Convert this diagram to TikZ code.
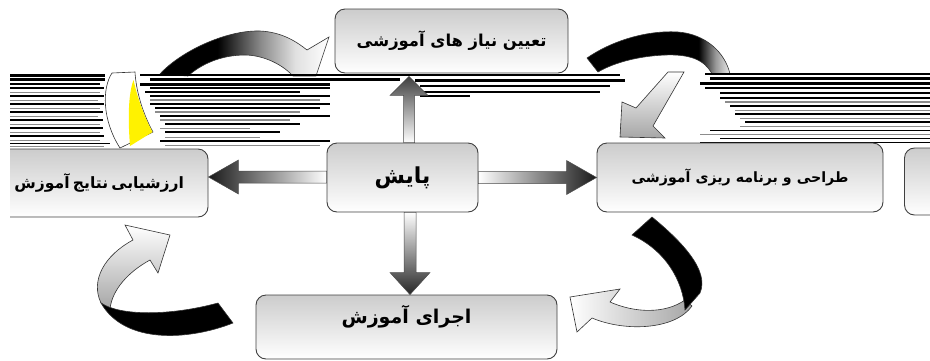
\documentclass[tikz,border=0pt]{standalone}
\usepackage{fontspec}
\newfontfamily\fa[Script=Arabic]{DejaVu Sans}
\TeXXeTstate=1
\usetikzlibrary{calc}
\pgfdeclarehorizontalshading{tlarc}{100bp}{color(0bp)=(black); color(25bp)=(black); color(42bp)=(black); color(55bp)=(black!45); color(65bp)=(black!12); color(75bp)=(white); color(100bp)=(white)}
\pgfdeclarehorizontalshading{trarc}{100bp}{color(0bp)=(black); color(25bp)=(black); color(64bp)=(black); color(70bp)=(black!40); color(75bp)=(black!8); color(100bp)=(black!8)}
\tikzset{
  box/.style={rounded corners=10pt, draw=black!75, line width=0.9pt, top color=black!20, bottom color=white, inner sep=0pt},
  barrow/.style={draw=black!70, line width=0.5pt},
  ribbon/.style={draw=black!80, line width=0.6pt},
  stripe/.style={line cap=butt}
}
\begin{document}
\begin{tikzpicture}[x=1pt,y=-1pt]
\useasboundingbox (0,0) rectangle (930,360);
\clip (10,0) rectangle (930,360);

% ---- top-left curved arrow (upper arc) ----
\shade[ribbon, shading=tlarc] (160,74) .. controls (180,52) and (225,30) .. (260,31) .. controls (282,32) and (297,42) .. (307,50) -- (329,37) -- (316,76) -- (293,76) .. controls (280,62) and (260,55) .. (245,55) .. controls (220,55) and (200,65) .. (188,76) -- cycle;
% ---- top-right curved arrow (upper arc) ----
\shade[ribbon, shading=trarc] (587,58) .. controls (610,42) and (645,30) .. (678,32) .. controls (705,34) and (725,52) .. (730,74) -- (712,74) .. controls (705,60) and (690,54) .. (665,55) .. controls (640,56) and (615,62) .. (598,72) -- cycle;

% ---- stripes ----
\foreach \yy/\xa/\xb/\ww/\cc in {
 75/10/105/3/black, 79.5/10/105/2.5/black, 84/10/100/1.5/black, 88/10/104/2/black,
 92/10/100/1/black!45, 96/10/104/2/black, 100/10/98/1/black!45, 104/10/104/1.8/black,
 108/10/100/1/black!45, 112/10/103/1.8/black, 116/10/98/1/black!45, 120/10/103/1.8/black,
 124/10/100/1/black!45, 128/10/103/1.5/black, 132/10/100/1/black!45, 136/10/104/1.5/black,
 140/10/100/1/black!45, 143/10/110/1/black, 146.5/10/104/1/black!45,
 75/140/330/2/black, 79/150/400/3/black, 84/140/330/3/black, 88/150/330/2/black,
 92/145/300/2/black, 96/150/330/2/black, 100/150/320/1.5/black!45, 104/150/330/2/black,
 108/155/320/1.5/black, 112/155/300/1.5/black!45, 116/160/330/1.5/black, 120/160/290/1.5/black!45,
 124/165/300/1.5/black, 128/160/250/1/black!45, 132/165/280/1.5/black, 137/165/260/1/black!45,
 141/160/330/1.5/black, 145/165/320/1/black!45,
 75/330/620/1.5/black, 80/415/625/3/black, 86/420/610/2.5/black, 92/415/600/1.5/black, 96/420/470/1.5/black,
 74/705/930/2/black, 78/710/930/3/black, 83/700/930/3/black, 88/705/930/2/black,
 93/720/930/2/black, 98/720/930/1.5/black, 102/725/930/1.5/black!45, 106/730/930/1.5/black,
 110/735/930/1/black!45, 114/735/930/1.5/black, 118/740/930/1/black!45, 122/745/930/1.5/black,
 126/740/930/1/black!45, 130/710/930/1/black, 134/700/930/1/black!45, 138/720/930/1/black,
 142/700/930/1/black}
 \draw[stripe, line width=\ww pt, draw=\cc] (\xa,\yy) -- (\xb,\yy);

% ---- top-left curved arrow (tail piece) ----
\filldraw[ribbon, fill=white] (112,73) .. controls (102,88) and (102,120) .. (120,148) -- (153,132) .. controls (142,112) and (136,90) .. (135,72) -- cycle;
\fill[yellow] (133.5,80) .. controls (138,100) and (145,118) .. (152.5,132) -- (130,146) .. controls (128,120) and (128,95) .. cycle;
% ---- top-right curved arrow (head piece) ----
\shade[ribbon, top color=white, bottom color=black!35] (668,72) -- (636,108) -- (622,102) -- (620,137) -- (665,138) -- (653,126) -- (684,72) -- cycle;

% ---- boxes ----
\node[box, minimum width=233pt, minimum height=64pt] (top) at (451.5,41)
  {\fa\bfseries\fontsize{16.4}{16.4}\selectfont\beginR تعیین نیاز های آموزشی\endR};
\node[box, minimum width=151pt, minimum height=69pt] (center) at (402.5,177.5)
  {\fa\bfseries\fontsize{22}{22}\selectfont\beginR پایش\endR};
\node[box, minimum width=268pt, minimum height=68pt, text width=220pt, align=right] (left) at (74,183)
  {\fa\bfseries\fontsize{15.6}{15.6}\selectfont\beginR ارزشیابی نتایج آموزش\endR};
\node[box, minimum width=286pt, minimum height=69pt] (right) at (740,177.5)
  {\fa\bfseries\fontsize{14.2}{14.2}\selectfont\beginR طراحی و برنامه ریزی آموزشی\endR};
\node[box, minimum width=195pt, minimum height=67pt] (farright) at (1002,181.5) {};
\node[box, minimum width=301pt, minimum height=64pt, text height=13pt, text depth=20pt] (bottom) at (406.5,327)
  {\fa\bfseries\fontsize{19}{19}\selectfont\beginR اجرای آموزش\endR};

% ---- straight block arrows from the centre ----
\coordinate (upB) at ($(center.north)+(6.5,0)$);
\coordinate (upT) at ($(top.south)+(-42.5,3)$);
\shade[barrow, bottom color=white, top color=black!75]
  ($(upB)+(-5.5,0)$) -- ($(upT)+(-5.5,19)$) -- ($(upT)+(-19,19)$) -- (upT) -- ($(upT)+(19,19)$) -- ($(upT)+(5.5,19)$) -- ($(upB)+(5.5,0)$) -- cycle;
\coordinate (dnB) at ($(center.south)+(7.5,0)$);
\coordinate (dnT) at ($(bottom.north)+(3.5,0)$);
\shade[barrow, top color=white, bottom color=black!85]
  ($(dnB)+(-6,0)$) -- ($(dnT)+(-6,-22)$) -- ($(dnT)+(-20,-22)$) -- (dnT) -- ($(dnT)+(20,-22)$) -- ($(dnT)+(6,-22)$) -- ($(dnB)+(6,0)$) -- cycle;
\coordinate (lfB) at ($(center.west)+(0,-0.5)$);
\coordinate (lfT) at ($(left.east)+(0,-6)$);
\shade[barrow, right color=white, left color=black!90]
  ($(lfB)+(0,-6)$) -- ($(lfT)+(30,-6)$) -- ($(lfT)+(30,-17)$) -- (lfT) -- ($(lfT)+(30,17)$) -- ($(lfT)+(30,6)$) -- ($(lfB)+(0,6)$) -- cycle;
\coordinate (rtB) at (center.east);
\coordinate (rtT) at (right.west);
\shade[barrow, left color=white, right color=black!90]
  ($(rtB)+(0,-6)$) -- ($(rtT)+(-30,-6)$) -- ($(rtT)+(-30,-17)$) -- (rtT) -- ($(rtT)+(-30,17)$) -- ($(rtT)+(-30,6)$) -- ($(rtB)+(0,6)$) -- cycle;

% ---- bottom-right curved arrow ----
\shade[ribbon, left color=white, right color=black!35] (570,297) -- (620,289) -- (610,302) .. controls (635,313) and (665,314) .. (685,300) -- (692,306) .. controls (675,330) and (625,332) .. (592,318) -- (577,332) -- cycle;
\filldraw[ribbon, fill=black] (652,217) .. controls (680,240) and (710,270) .. (700,293) -- (685,310) .. controls (683,280) and (665,250) .. (632,235) -- cycle;

% ---- bottom-left curved arrow ----
\shade[ribbon, top color=white, bottom color=black!35] (101,303) .. controls (90,280) and (105,255) .. (133,240) -- (125,225) -- (170,235) -- (158,273) -- (150,260) .. controls (128,272) and (112,290) .. (110,309) -- cycle;
\filldraw[ribbon, fill=black] (218,303) -- (233,323) .. controls (190,340) and (125,345) .. (101,303) .. controls (120,316) and (170,316) .. (218,303) -- cycle;
\end{tikzpicture}
\end{document}
